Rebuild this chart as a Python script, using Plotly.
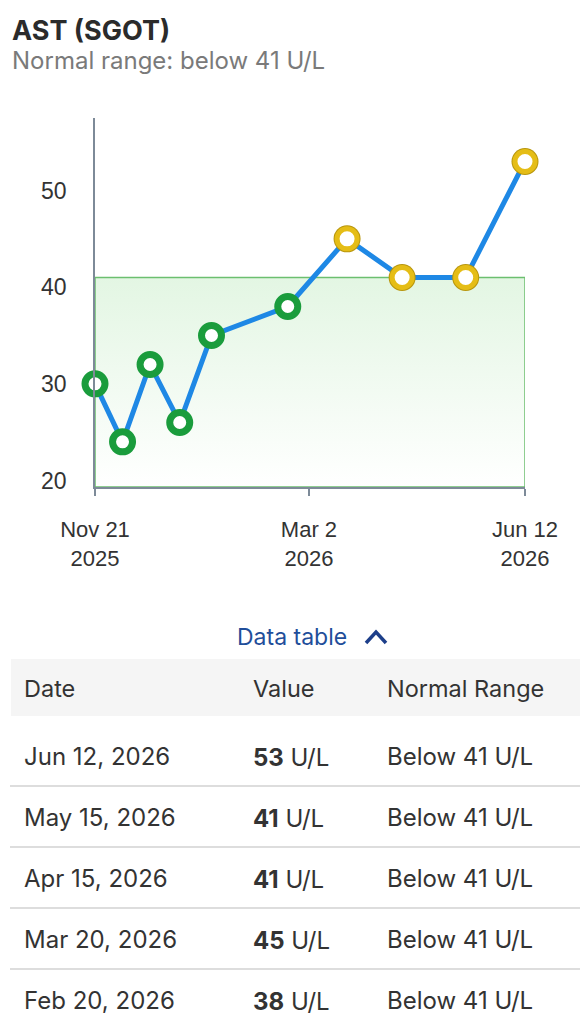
import plotly.graph_objects as go
from datetime import datetime

# page body has an 8px margin: the figure is drawn 8px in from the window edge
OFF = 8
W, H = 588 - OFF, 1024 - 2 * OFF

# ---- data ----
dates = ["2025-11-21", "2025-12-04", "2025-12-17", "2025-12-31", "2026-01-15",
         "2026-02-20", "2026-03-20", "2026-04-15", "2026-05-15", "2026-06-12"]
values = [30, 24, 32, 26, 35, 38, 45, 41, 41, 53]
normal_upper = 41
unit = "U/L"
x_tick_vals = ["2025-11-21", "2026-03-02", "2026-06-12"]
x_tick_text = ["Nov 21<br>2025", "Mar 2<br>2026", "Jun 12<br>2026"]
y_tick_vals = [20, 30, 40, 50]
y_range = [19.33, 57.5]
title = "AST (SGOT)"
subtitle = "Normal range: below 41 U/L"
table_header = ["Date", "Value", "Normal Range"]
range_text = "Below 41 U/L"
n_table_rows = 5

# ---- helpers (window pixel -> paper) ----
def px(x):
    return (x - OFF) / W

def py(y):
    return 1 - (y - OFF) / H

UI_FONT = "Inter"
AX_FONT = "Liberation Sans"
TXT = "#333333"
AXIS_COL = "#7d8a98"
GREEN = "#1a9c3c"
GOLD = "#e5bd16"
GOLD_DARK = "#b8960c"
BLUE = "#1e88e5"

in_range = [v < normal_upper for v in values]
ring_colors = [GREEN if ok else GOLD for ok in in_range]

fig = go.Figure()

# normal range band with vertical gradient
fig.add_trace(go.Scatter(
    x=[dates[0], dates[-1], dates[-1], dates[0], dates[0]],
    y=[normal_upper, normal_upper, y_range[0], y_range[0], normal_upper],
    mode="lines", fill="toself",
    line=dict(color="#6cbf6f", width=1.5),
    fillgradient=dict(type="vertical",
                      colorscale=[[0, "rgba(255,255,255,1)"], [1, "#e3f6e3"]]),
    hoverinfo="skip", showlegend=False, cliponaxis=False,
))

# line
fig.add_trace(go.Scatter(
    x=dates, y=values, mode="lines",
    line=dict(color=BLUE, width=5),
    showlegend=False, cliponaxis=False, hoverinfo="skip",
))

# dark outline for out-of-range markers
fig.add_trace(go.Scatter(
    x=[d for d, ok in zip(dates, in_range) if not ok],
    y=[v for v, ok in zip(values, in_range) if not ok],
    mode="markers",
    marker=dict(size=27, color=GOLD_DARK, line=dict(width=0)),
    showlegend=False, cliponaxis=False, hoverinfo="skip",
))

# ring markers
fig.add_trace(go.Scatter(
    x=dates, y=values, mode="markers",
    marker=dict(size=20, color="white",
                line=dict(width=[7 if ok else 5 for ok in in_range], color=ring_colors)),
    showlegend=False, cliponaxis=False,
))

fig.update_xaxes(
    type="date", range=[dates[0], dates[-1]],
    domain=[px(95), px(525)],
    showline=True, linecolor=AXIS_COL, linewidth=1.5,
    ticks="outside", ticklen=7, tickwidth=1.5, tickcolor=AXIS_COL,
    tickvals=x_tick_vals, ticktext=x_tick_text,
    tickfont=dict(family=AX_FONT, size=22, color=TXT),
    ticklabelstandoff=15, automargin=False,
    showgrid=False, zeroline=False, fixedrange=True,
)
fig.update_yaxes(
    range=y_range, domain=[py(487), py(118)],
    showline=True, linecolor=AXIS_COL, linewidth=1.5,
    ticks="", tickvals=y_tick_vals,
    tickfont=dict(family=AX_FONT, size=23, color=TXT),
    ticklabelstandoff=22, automargin=False,
    showgrid=False, zeroline=False, fixedrange=True,
)

annotations = []
shapes = []

def add_text(text, x, y, size, color=TXT, family=UI_FONT, xanchor="left"):
    annotations.append(dict(
        text=text, x=px(x), y=py(y), xref="paper", yref="paper",
        xanchor=xanchor, yanchor="middle", showarrow=False,
        font=dict(family=family, size=size, color=color),
    ))

# title
add_text(f"<b>{title}</b>", 10, 30, 27, color="#2b2b2b")
add_text(subtitle, 10, 60, 24, color="#7a7a7a")

# data table toggle
add_text("Data table", 292, 637, 23, color="#1f4e9a", xanchor="center")
shapes.append(dict(
    type="path", xref="paper", yref="paper",
    path=f"M {px(366)},{py(643)} L {px(376)},{py(632)} L {px(386)},{py(643)}",
    line=dict(color="#1d3f8a", width=3.5),
))

# table header
shapes.append(dict(type="rect", xref="paper", yref="paper",
                   x0=px(11), x1=px(610), y0=py(716), y1=py(659),
                   fillcolor="#f5f5f5", line=dict(width=0), layer="below"))
col_x = [22, 251, 385]
for cx, h in zip(col_x, table_header):
    add_text(h, cx, 688, 23.5)

# table rows (latest first)
row_y0 = 756
row_h = 61
rows = list(zip(dates, values))[::-1][:n_table_rows]
for i, (d, v) in enumerate(rows):
    yc = row_y0 + i * row_h
    dt = datetime.strptime(d, "%Y-%m-%d")
    add_text(f"{dt:%b} {dt.day}, {dt.year}", col_x[0], yc, 24)
    add_text(f"<b>{v}</b> {unit}", col_x[1], yc + 1, 24)
    add_text(range_text, col_x[2], yc, 24)
    sep = yc + 30
    shapes.append(dict(type="line", xref="paper", yref="paper",
                       x0=px(10), x1=px(610), y0=py(sep), y1=py(sep),
                       line=dict(color="#dddddd", width=2)))

fig.update_layout(
    width=W, height=H,
    margin=dict(l=0, r=0, t=0, b=0, pad=0, autoexpand=False),
    paper_bgcolor="white", plot_bgcolor="white",
    annotations=annotations, shapes=shapes,
    showlegend=False,
)

fig.write_html("out.html")
